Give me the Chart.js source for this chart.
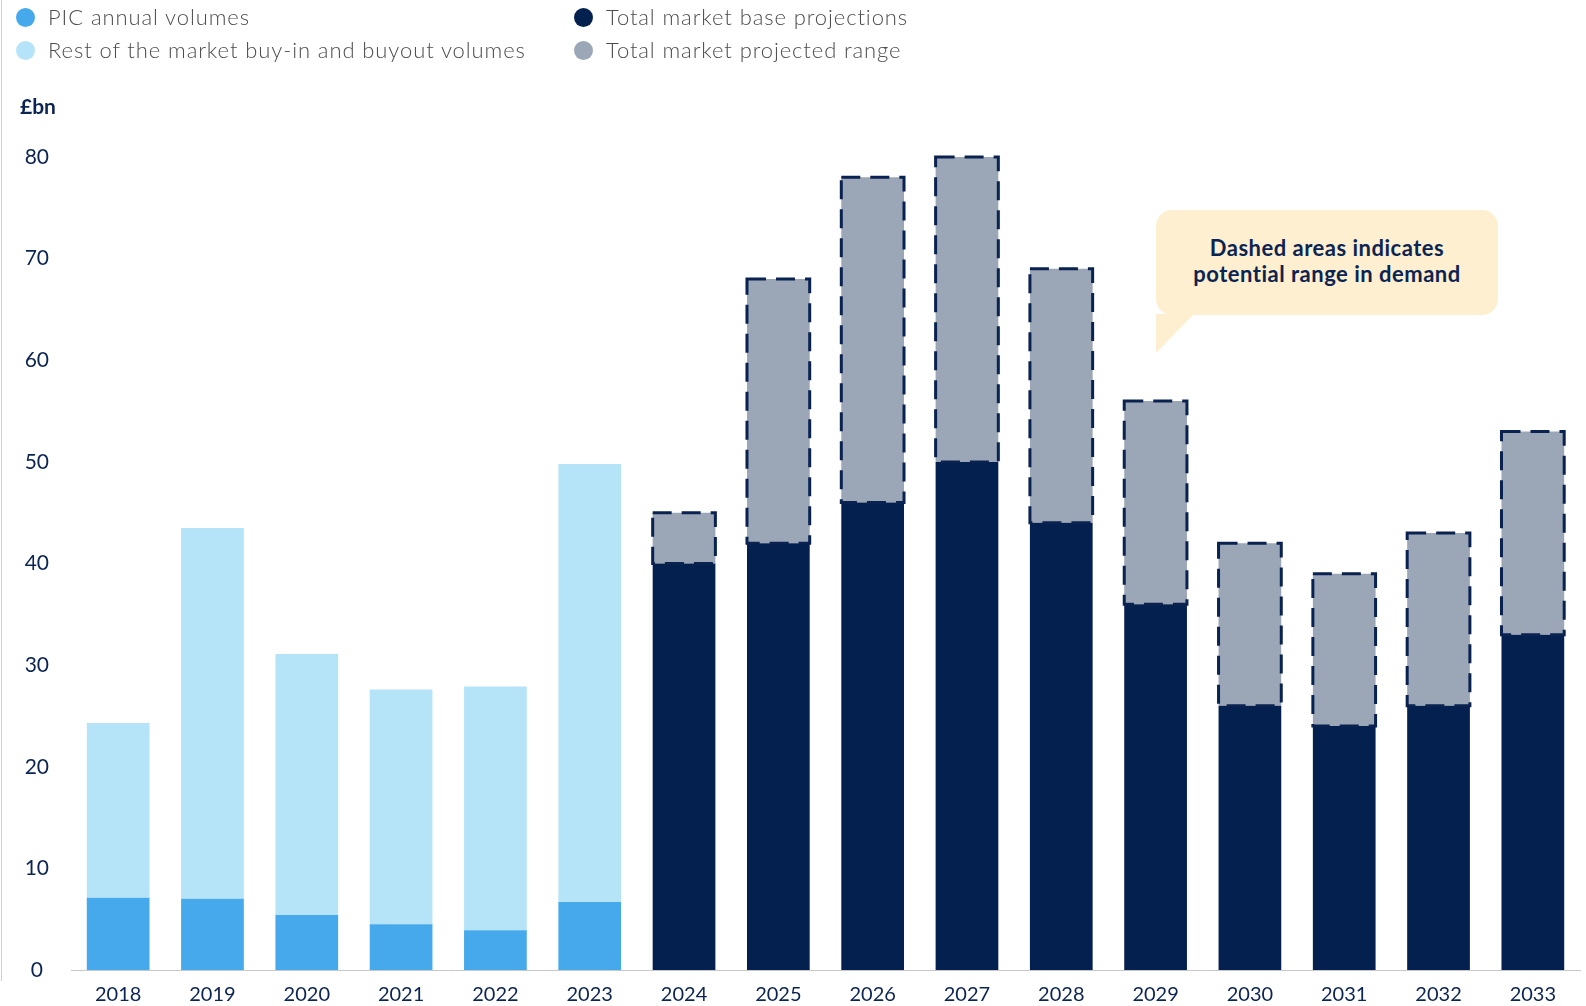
<!DOCTYPE html>
<html>
<head>
<meta charset="utf-8">
<script src="https://cdn.jsdelivr.net/npm/chart.js@4.4.1/dist/chart.umd.min.js"></script>
<style>
  html, body { margin: 0; padding: 0; background: #fff; }
  #wrap { position: relative; width: 1586px; height: 1006px; overflow: hidden; font-family: Lato, "Open Sans", sans-serif; }
  #chart { position: absolute; left: 0; top: 0; }
  #edge { position: absolute; left: 1px; top: 0; width: 1px; height: 981px; background: #d0d0d0; }
  .key { position: absolute; height: 34px; line-height: 34px; display: flex; align-items: center;
         font-size: 22px; font-weight: 300; letter-spacing: 0.9px; color: #4d4d4d; white-space: nowrap; }
  .key i { display: block; width: 19px; height: 19px; border-radius: 50%; margin-right: 13px; }
  #unit { position: absolute; left: 20px; top: 93px; font-size: 21px; font-weight: 700; color: #0c2452; }
  #note { position: absolute; left: 1156px; top: 210px; width: 342px; height: 105px; border-radius: 16px;
          background: #fdefd0; color: #0c2452; font-weight: 700; font-size: 22px; letter-spacing: 0.5px;
          line-height: 26px; text-align: center; box-sizing: border-box; padding-top: 25px; }
  #note::after { content: ""; position: absolute; left: 0; top: 104px; width: 38px; height: 39px;
                 background: #fdefd0; clip-path: polygon(0 0, 100% 0, 0 100%); }
</style>
</head>
<body>
<div id="wrap">
  <canvas id="chart" width="1586" height="1006"></canvas>
  <div id="edge"></div>
  <div id="legend"></div>
  <div id="unit">£bn</div>
  <div id="note">Dashed areas indicates<br>potential range in demand</div>
</div>
<script>
const years = ['2018', '2019', '2020', '2021', '2022', '2023', '2024', '2025',
               '2026', '2027', '2028', '2029', '2030', '2031', '2032', '2033'];

// £bn, actuals 2018-2023
const picVolumes  = [7.1, 7.0, 5.4, 4.5, 3.9, 6.7, null, null, null, null, null, null, null, null, null, null];
const restVolumes = [17.2, 36.5, 25.7, 23.1, 24.0, 43.1, null, null, null, null, null, null, null, null, null, null];

// £bn, projections 2024-2033: base case plus the extra range on top of it
const baseProjection = [null, null, null, null, null, null, 40, 42, 46, 50, 44, 36, 26, 24, 26, 33];
const rangeSpan      = [null, null, null, null, null, null, 5, 26, 32, 30, 25, 20, 16, 15, 17, 20];

const seriesNames = ['PIC annual volumes', 'Rest of the market buy-in and buyout volumes',
                     'Total market base projections', 'Total market projected range'];
const seriesColors = ['#45a9ec', '#b5e4f8', '#04204e', '#9ba6b7'];

const NAVY = '#0c2452';

// legend laid out in two columns
const keySpots = [[16, 0], [16, 33], [574, 0], [574, 33]];
const legendEl = document.getElementById('legend');
seriesNames.forEach((name, i) => {
  const el = document.createElement('div');
  el.className = 'key';
  el.style.left = keySpots[i][0] + 'px';
  el.style.top = keySpots[i][1] + 'px';
  el.innerHTML = `<i style="background:${seriesColors[i]}"></i>${name}`;
  legendEl.appendChild(el);
});

// dashed outline around the projected-range bars
const dashedRange = {
  id: 'dashedRange',
  afterDatasetsDraw(chart) {
    const meta = chart.getDatasetMeta(3);
    const ctx = chart.ctx;
    ctx.save();
    ctx.strokeStyle = '#0a2250';
    ctx.lineWidth = 3;
    ctx.setLineDash([19, 10]);
    meta.data.forEach((bar, i) => {
      if (rangeSpan[i] == null) return;
      const { x, y, base, width } = bar.getProps(['x', 'y', 'base', 'width'], true);
      ctx.strokeRect(x - width / 2, y, width, base - y);
    });
    ctx.restore();
  }
};

const seriesData = [picVolumes, restVolumes, baseProjection, rangeSpan];

new Chart(document.getElementById('chart'), {
  type: 'bar',
  data: {
    labels: years,
    datasets: seriesData.map((d, i) => ({
      label: seriesNames[i],
      data: d,
      backgroundColor: seriesColors[i],
      borderWidth: 0,
      categoryPercentage: 1,
      barPercentage: 0.665
    }))
  },
  options: {
    responsive: false,
    devicePixelRatio: 1,
    animation: false,
    layout: { padding: { top: 157, right: 6, left: 0, bottom: 0 } },
    plugins: { legend: { display: false }, tooltip: { enabled: false } },
    scales: {
      x: {
        stacked: true,
        grid: { display: false, drawTicks: false },
        border: { display: true, color: '#c8c8c8', width: 1 },
        ticks: { color: NAVY, font: { family: 'Lato', size: 20 }, padding: 13 },
        afterFit: (s) => { s.height = 36; }
      },
      y: {
        stacked: true,
        min: 0,
        max: 80,
        grid: { display: false, drawTicks: false },
        border: { display: false },
        ticks: {
          stepSize: 10,
          color: NAVY,
          font: { family: 'Lato', size: 21 },
          crossAlign: 'center',
          padding: 22
        },
        afterFit: (s) => { s.width = 71; }
      }
    }
  },
  plugins: [dashedRange]
});
</script>
</body>
</html>
